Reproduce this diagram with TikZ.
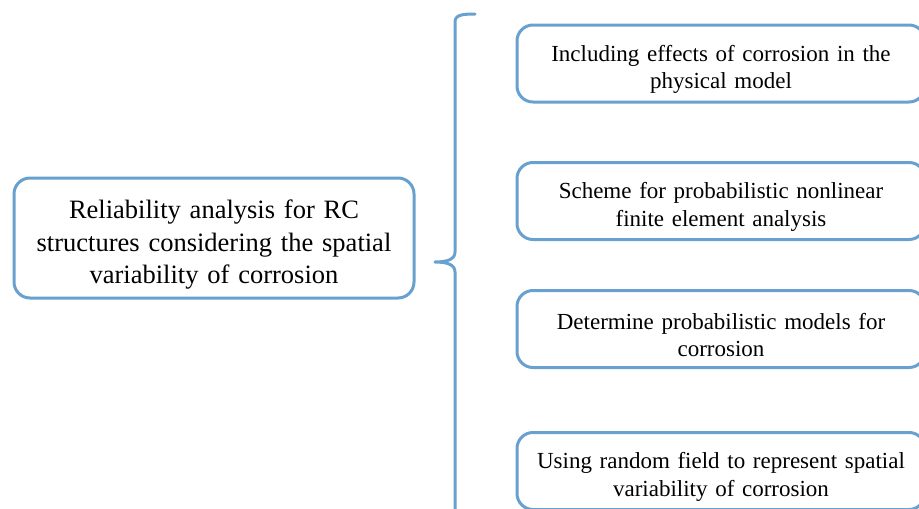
\documentclass[tikz,border=0pt]{standalone}
\usepackage{fontspec}
\setmainfont{Liberation Serif}
\newfontfamily\subfont[WordSpace=1.8]{Liberation Serif}
\definecolor{boxblue}{RGB}{104,161,207}
\newcommand{\mainstrut}{\rule{0pt}{32pt}}
\newcommand{\substrut}{\rule{0pt}{28pt}}
\begin{document}
\begin{tikzpicture}[x=1pt,y=-1pt,
  frame/.style={draw=boxblue, line width=3pt, rounded corners=16pt, align=center, inner sep=0pt},
  mainbox/.style={frame, minimum width=400pt, minimum height=120pt, text width=390pt,
    font=\fontsize{26.5}{32.5}\selectfont},
  subbox/.style={frame, minimum width=408pt, minimum height=77pt, text width=404pt,
    font=\subfont\fontsize{23}{27.5}\selectfont},
  bracestyle/.style={draw=boxblue, line width=3pt, line cap=round, line join=round}]
\useasboundingbox (0,0) rectangle (919,509);
\clip (0,0) rectangle (919,509);
\node[mainbox] (main) at (214,238) {\mainstrut Reliability analysis for RC\\structures considering the spatial\\variability of corrosion};
\node[subbox] (s1) at (721,63.5) {\substrut Including effects of corrosion in the\\physical model};
\node[subbox] (s2) at (721,201) {\substrut Scheme for probabilistic nonlinear\\finite element analysis};
\node[subbox] (s3) at (721,329) {\substrut Determine probabilistic models for\\corrosion};
\node[subbox] (s4) at (721,471) {\substrut Using random field to represent spatial\\variability of corrosion};
\coordinate (btop) at (475,14);
\coordinate (btip) at (435,262);
\coordinate (bbot) at (455,515);
\draw[bracestyle] (btop) .. controls (462,14) and (455,15) .. (455,22)
  -- (455,252) .. controls (455,259) and (448,262) .. (btip)
  .. controls (448,262) and (455,265) .. (455,272) -- (bbot);
\end{tikzpicture}
\end{document}
